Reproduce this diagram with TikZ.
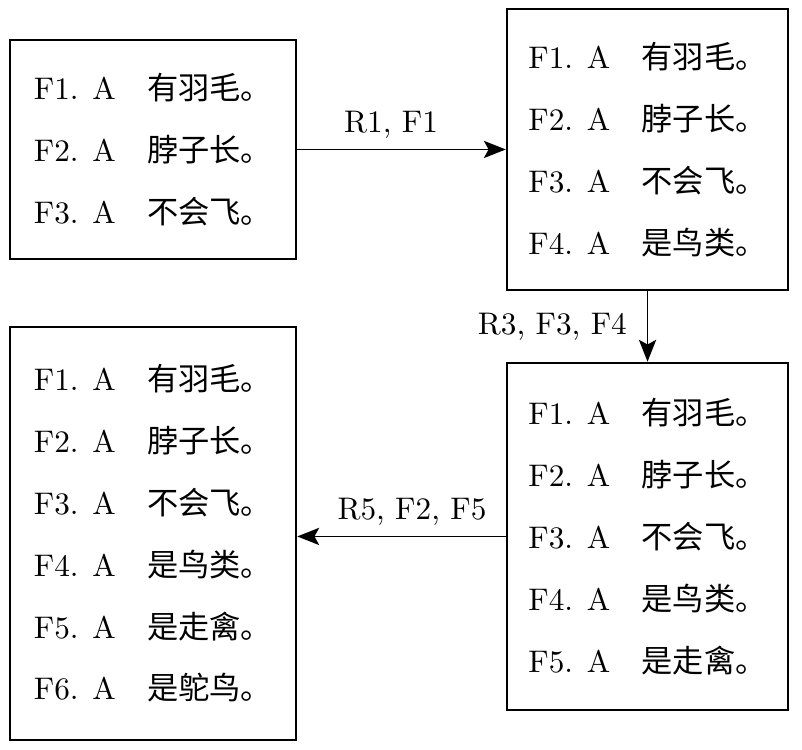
\documentclass[tikz,border=0pt]{standalone}
\usepackage{fontspec}
\newfontfamily\cjk{Noto Sans CJK SC}
\usetikzlibrary{arrows.meta,positioning}

\begin{document}
\begin{tikzpicture}[auto,
    box/.style={rectangle, draw, thick, align=left, inner sep=0pt, font=\normalsize},
    ar/.style={semithick,->,>={Stealth[length=7pt,width=5.5pt,inset=1.5pt]}}]
    \useasboundingbox (0,0) rectangle (9.019,8.434);
    \node [box, minimum width=3.216cm, minimum height=2.463cm] (s0) at (1.721,6.753)
        {F1. A\quad{\cjk 有羽毛。}\\[7.8pt]
         F2. A\quad{\cjk 脖子长。}\\[7.8pt]
         F3. A\quad{\cjk 不会飞。}};
    \node [box, minimum width=3.160cm, minimum height=3.160cm] (s1) at (7.282,6.753)
        {F1. A\quad{\cjk 有羽毛。}\\[7.8pt]
         F2. A\quad{\cjk 脖子长。}\\[7.8pt]
         F3. A\quad{\cjk 不会飞。}\\[7.8pt]
         F4. A\quad{\cjk 是鸟类。}};
    \node [box, minimum width=3.160cm, minimum height=3.902cm] (s2) at (7.282,2.401)
        {F1. A\quad{\cjk 有羽毛。}\\[7.8pt]
         F2. A\quad{\cjk 脖子长。}\\[7.8pt]
         F3. A\quad{\cjk 不会飞。}\\[7.8pt]
         F4. A\quad{\cjk 是鸟类。}\\[7.8pt]
         F5. A\quad{\cjk 是走禽。}};
    \node [box, minimum width=3.216cm, minimum height=4.645cm] (s3) at (1.721,2.435)
        {F1. A\quad{\cjk 有羽毛。}\\[7.8pt]
         F2. A\quad{\cjk 脖子长。}\\[7.8pt]
         F3. A\quad{\cjk 不会飞。}\\[7.8pt]
         F4. A\quad{\cjk 是鸟类。}\\[7.8pt]
         F5. A\quad{\cjk 是走禽。}\\[7.8pt]
         F6. A\quad{\cjk 是鸵鸟。}};
    % rule applications
    \draw [ar] (s0) -- node[above, pos=0.45]{R1, F1} (s1);
    \draw [ar] (s1) -- node[left, xshift=-3pt]{R3, F3, F4} (s2);
    \draw [ar] (s2.west) -- node[above, pos=0.45]{R5, F2, F5} (s2.west -| s3.east);
\end{tikzpicture}
\end{document}
